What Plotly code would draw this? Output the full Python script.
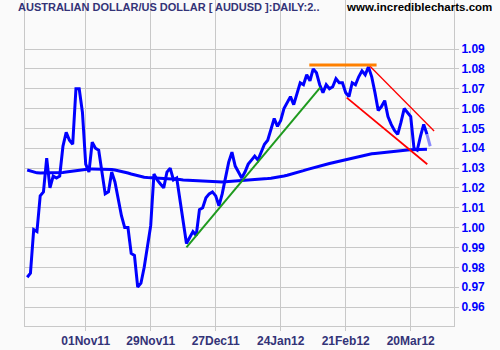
import plotly.graph_objects as go
import pandas as pd

# ---- data ----
title_text = "AUSTRALIAN DOLLAR/US DOLLAR [ AUDUSD ]:DAILY:2.."
site_text = "www.incrediblecharts.com"
start_date = "2011-10-06"

price = [
    0.975, 0.977, 0.999, 0.998, 1.016, 1.018, 1.035, 1.020, 1.026, 1.025,
    1.026, 1.041, 1.048, 1.044, 1.042, 1.070, 1.070, 1.058, 1.032, 1.028,
    1.043, 1.040, 1.039, 1.028, 1.017, 1.018, 1.028, 1.023, 1.014, 1.006,
    1.000, 1.000, 0.987, 0.986, 0.970, 0.972, 0.980, 0.990, 1.001, 1.027,
    1.024, 1.022, 1.020, 1.028, 1.030, 1.024, 1.025, 1.014, 1.003, 0.992,
    0.995, 0.998, 0.996, 1.009, 1.010, 1.015, 1.017, 1.018, 1.016, 1.011,
    1.017, 1.026, 1.033, 1.038, 1.031, 1.028, 1.025, 1.028, 1.032, 1.034,
    1.036, 1.034, 1.038, 1.042, 1.044, 1.050, 1.055, 1.051, 1.054, 1.060,
    1.063, 1.066, 1.062, 1.068, 1.073, 1.072, 1.077, 1.074, 1.080, 1.078,
    1.072, 1.068, 1.072, 1.070, 1.071, 1.075, 1.073, 1.073, 1.068, 1.066,
    1.073, 1.072, 1.076, 1.079, 1.077, 1.081, 1.076, 1.068, 1.059, 1.061,
    1.064, 1.056, 1.052, 1.049, 1.047, 1.053, 1.060, 1.058, 1.056, 1.040,
    1.039, 1.046, 1.052, 1.047, 1.041,
]

moving_avg = [
    1.0290, 1.0285, 1.0280, 1.0276, 1.0275, 1.0275, 1.0275, 1.0275, 1.0276, 1.0276,
    1.0277, 1.0278, 1.0280, 1.0282, 1.0285, 1.0288, 1.0291, 1.0293, 1.0294, 1.0295,
    1.0295, 1.0295, 1.0295, 1.0295, 1.0294, 1.0294, 1.0293, 1.0290, 1.0287, 1.0283,
    1.0279, 1.0275, 1.0270, 1.0265, 1.0261, 1.0257, 1.0254, 1.0252, 1.0251, 1.0250,
    1.0250, 1.0249, 1.0249, 1.0248, 1.0248, 1.0246, 1.0244, 1.0242, 1.0240, 1.0239,
    1.0238, 1.0236, 1.0235, 1.0234, 1.0233, 1.0232, 1.0231, 1.0230, 1.0230, 1.0230,
    1.0230, 1.0231, 1.0232, 1.0233, 1.0234, 1.0235, 1.0236, 1.0237, 1.0238, 1.0240,
    1.0241, 1.0243, 1.0244, 1.0246, 1.0247, 1.0249, 1.0251, 1.0254, 1.0257, 1.0260,
    1.0264, 1.0268, 1.0272, 1.0277, 1.0282, 1.0287, 1.0292, 1.0297, 1.0302, 1.0306,
    1.0310, 1.0314, 1.0318, 1.0323, 1.0327, 1.0331, 1.0335, 1.0339, 1.0343, 1.0347,
    1.0351, 1.0355, 1.0359, 1.0362, 1.0366, 1.0369, 1.0372, 1.0374, 1.0376, 1.0378,
    1.0380, 1.0382, 1.0383, 1.0385, 1.0386, 1.0388, 1.0389, 1.0391, 1.0392, 1.0393,
    1.0394, 1.0395, 1.0395, 1.0395,
]

tick_dates = ["2011-11-01", "2011-11-29", "2011-12-27", "2012-01-24", "2012-02-21", "2012-03-20"]
tick_labels = ["01Nov11", "29Nov11", "27Dec11", "24Jan12", "21Feb12", "20Mar12"]
y_ticks = [0.96, 0.97, 0.98, 0.99, 1.00, 1.01, 1.02, 1.03, 1.04, 1.05, 1.06, 1.07, 1.08, 1.09]

# trend lines (trading-day index, price)
green_x = [49, 90.2]
green_y = [0.990, 1.0707]
orange_x = [86.8, 107.5]
orange_y = [1.0819, 1.0819]
red_upper_x = [105.4, 125.2]
red_upper_y = [1.0814, 1.0487]
red_lower_x = [98.3, 123.1]
red_lower_y = [1.0655, 1.0319]

# ---- build ----
dates = pd.bdate_range(start_date, periods=len(price))
x_idx = list(range(len(price)))
tick_vals = [dates.get_loc(pd.Timestamp(d)) for d in tick_dates]

BLUE = "#0000FF"
FONT = "Liberation Sans, Arial, sans-serif"

fig = go.Figure()
fig.add_trace(go.Scatter(x=list(range(len(moving_avg))), y=moving_avg, mode="lines",
                         line=dict(color=BLUE, width=3), hoverinfo="skip"))
fig.add_trace(go.Scatter(x=x_idx[:-1], y=price[:-1], mode="lines",
                         line=dict(color=BLUE, width=3), hoverinfo="skip"))
fig.add_trace(go.Scatter(x=x_idx[-2:], y=price[-2:], mode="lines",
                         line=dict(color="rgba(0,0,255,0.45)", width=3), hoverinfo="skip"))
fig.add_trace(go.Scatter(x=green_x, y=green_y, mode="lines",
                         line=dict(color="#1E9A1E", width=2), hoverinfo="skip"))
fig.add_trace(go.Scatter(x=red_upper_x, y=red_upper_y, mode="lines",
                         line=dict(color="#FF0000", width=1.3), hoverinfo="skip"))
fig.add_trace(go.Scatter(x=red_lower_x, y=red_lower_y, mode="lines",
                         line=dict(color="#FF0000", width=1.8), hoverinfo="skip"))
fig.add_trace(go.Scatter(x=orange_x, y=orange_y, mode="lines",
                         line=dict(color="#FF8000", width=3), hoverinfo="skip"))

fig.update_layout(
    width=500, height=350,
    margin=dict(l=25, r=46, t=0, b=24, pad=0),
    paper_bgcolor="#FAFAFA", plot_bgcolor="#FAFAFA",
    showlegend=False, hovermode=False,
    font=dict(family=FONT, size=12),
    xaxis=dict(
        range=[-0.677, 131.32], tickmode="array", tickvals=tick_vals,
        ticktext=["<b>%s</b>" % t for t in tick_labels],
        showgrid=True, gridcolor="#C8C8C8", gridwidth=1,
        showline=True, linecolor="#C8C8C8", linewidth=1,
        ticks="outside", ticklen=4, tickcolor="#C8C8C8",
        tickfont=dict(family=FONT, size=12, color="#333377"),
        zeroline=False, automargin=False, fixedrange=True,
    ),
    yaxis=dict(
        side="right", range=[0.950426, 1.11469], tickmode="array", tickvals=y_ticks,
        ticktext=["<b>%.2f</b>" % v for v in y_ticks],
        showgrid=True, gridcolor="#C8C8C8", gridwidth=1,
        showline=True, linecolor="#C8C8C8", linewidth=1, mirror=True,
        ticks="outside", ticklen=4, tickcolor="#C8C8C8",
        tickfont=dict(family=FONT, size=12, color=BLUE),
        zeroline=False, automargin=False, fixedrange=True,
    ),
    annotations=[
        dict(text="<b>%s</b>" % title_text, xref="paper", yref="paper",
             x=(16 - 25) / 429, y=(326 - 7) / 326,
             xanchor="left", yanchor="middle", showarrow=False,
             font=dict(family=FONT, size=11, color="#333377")),
        dict(text="<b>%s</b>" % site_text, xref="paper", yref="paper",
             x=(344 - 25) / 429, y=(326 - 7) / 326,
             xanchor="left", yanchor="middle", showarrow=False,
             font=dict(family=FONT, size=11.5, color="#000000")),
    ],
)

fig.write_html("out.html", config=dict(displayModeBar=False))
